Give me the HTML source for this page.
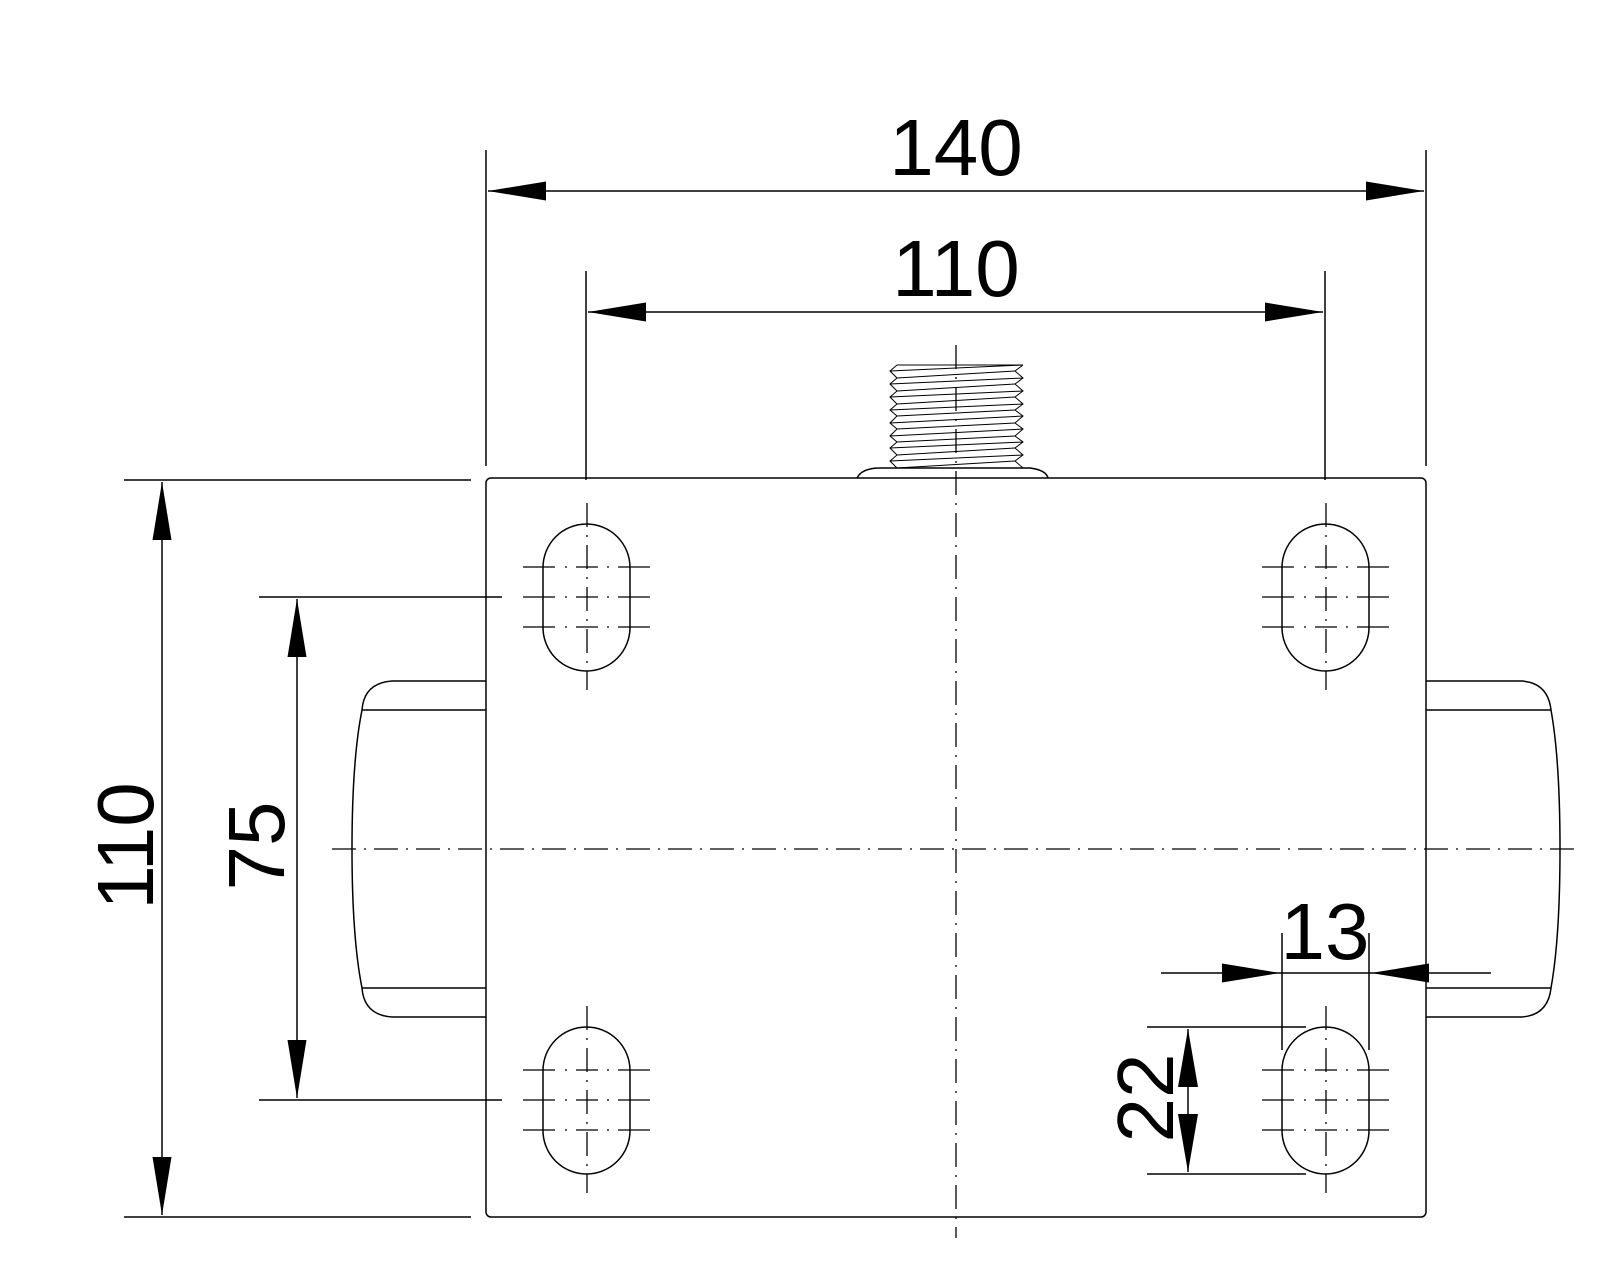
<!DOCTYPE html>
<html><head><meta charset="utf-8"><style>html,body{margin:0;padding:0;background:#fff}svg{display:block}</style></head>
<body>
<svg width="1600" height="1280" viewBox="0 0 1600 1280" xmlns="http://www.w3.org/2000/svg">
<g fill="none" stroke="#000" stroke-width="1.5">
<rect x="486" y="478" width="940" height="739" rx="5"/>
<path d="M486 681 H392 Q364 683 362 710 Q352 760 352 849 Q352 938 362 988 Q364 1015 392 1017 H486"/>
<line x1="362" y1="710" x2="486" y2="710"/><line x1="362" y1="988" x2="486" y2="988"/>
<path d="M1426 681 H1522 Q1548 683 1551 710 Q1560 760 1560 849 Q1560 938 1551 988 Q1548 1015 1522 1017 H1426"/>
<line x1="1426" y1="710" x2="1551" y2="710"/><line x1="1426" y1="988" x2="1551" y2="988"/>
<path d="M857 478 Q862 468 880 468 H1030 Q1046 470 1048 478"/>
<line x1="486" y1="150" x2="486" y2="466"/><line x1="1426" y1="150" x2="1426" y2="466"/>
<line x1="586" y1="271" x2="586" y2="480"/><line x1="1325" y1="271" x2="1325" y2="480"/>
<line x1="488" y1="191" x2="1424" y2="191"/>
<line x1="588" y1="312" x2="1323" y2="312"/>
<line x1="124" y1="480" x2="471" y2="480"/><line x1="124" y1="1217" x2="471" y2="1217"/>
<line x1="162" y1="482" x2="162" y2="1215"/>
<line x1="259" y1="597" x2="502" y2="597"/><line x1="259" y1="1100" x2="502" y2="1100"/>
<line x1="297" y1="599" x2="297" y2="1098"/>
<line x1="1161" y1="973" x2="1491" y2="973"/>
<line x1="1282" y1="933" x2="1282" y2="1050"/><line x1="1369" y1="933" x2="1369" y2="1050"/>
<line x1="1147" y1="1027" x2="1306" y2="1027"/><line x1="1147" y1="1174" x2="1306" y2="1174"/>
<line x1="1188" y1="1029" x2="1188" y2="1172"/>
<rect x="543" y="524" width="87" height="147" rx="43.5"/>
<rect x="1282" y="524" width="87" height="147" rx="43.5"/>
<rect x="543" y="1027" width="87" height="147" rx="43.5"/>
<rect x="1282" y="1027" width="87" height="147" rx="43.5"/>
</g>
<g stroke="#000" stroke-width="1.3" fill="none" stroke-dasharray="24 8 2 8">
<line x1="332" y1="849" x2="1582" y2="849"/>
<line x1="956" y1="345" x2="956" y2="1238"/>
<line x1="587" y1="503" x2="587" y2="690"/>
<line x1="1326" y1="503" x2="1326" y2="690"/>
<line x1="587" y1="1006" x2="587" y2="1193"/>
<line x1="1326" y1="1006" x2="1326" y2="1193"/>
</g>
<g stroke="#000" stroke-width="1.3" fill="none" stroke-dasharray="32 10 2 9 22 9 2 9 40">
<line x1="523" y1="567" x2="650" y2="567"/><line x1="523" y1="597" x2="650" y2="597"/><line x1="523" y1="627" x2="650" y2="627"/>
<line x1="1262" y1="567" x2="1389" y2="567"/><line x1="1262" y1="597" x2="1389" y2="597"/><line x1="1262" y1="627" x2="1389" y2="627"/>
<line x1="523" y1="1070" x2="650" y2="1070"/><line x1="523" y1="1100" x2="650" y2="1100"/><line x1="523" y1="1130" x2="650" y2="1130"/>
<line x1="1262" y1="1070" x2="1389" y2="1070"/><line x1="1262" y1="1100" x2="1389" y2="1100"/><line x1="1262" y1="1130" x2="1389" y2="1130"/>
</g>
<g stroke="#000" stroke-width="1" fill="none">
<polyline points="897,365 890,371 897,378 890,384 897,391 890,397 897,404 890,410 897,416 890,423 897,429 890,436 897,442 890,448 897,455 890,461 897,468"/>
<polyline points="1023,365 1015,371 1023,378 1015,384 1023,391 1015,397 1023,404 1015,410 1023,416 1015,423 1023,429 1015,436 1023,442 1015,448 1023,455 1015,461 1023,468"/>
<line x1="897" y1="365" x2="1023" y2="365"/>
<line x1="890" y1="371" x2="1023" y2="365"/><line x1="890" y1="384" x2="1023" y2="378"/><line x1="890" y1="397" x2="1023" y2="391"/><line x1="890" y1="410" x2="1023" y2="404"/><line x1="890" y1="423" x2="1023" y2="416"/><line x1="890" y1="436" x2="1023" y2="429"/><line x1="890" y1="448" x2="1023" y2="442"/><line x1="890" y1="461" x2="1023" y2="455"/>
<line x1="897" y1="378" x2="1015" y2="371"/><line x1="897" y1="391" x2="1015" y2="384"/><line x1="897" y1="404" x2="1015" y2="397"/><line x1="897" y1="416" x2="1015" y2="410"/><line x1="897" y1="429" x2="1015" y2="423"/><line x1="897" y1="442" x2="1015" y2="436"/><line x1="897" y1="455" x2="1015" y2="448"/><line x1="897" y1="468" x2="1015" y2="461"/>
</g>
<g fill="#000">
<polygon points="488,191 546,181.5 546,200.5"/><polygon points="1424,191 1366,181.5 1366,200.5"/>
<polygon points="588,312 646,302.5 646,321.5"/><polygon points="1323,312 1265,302.5 1265,321.5"/>
<polygon points="162,482 152.5,540 171.5,540"/><polygon points="162,1215 152.5,1157 171.5,1157"/>
<polygon points="297,599 287.5,657 306.5,657"/><polygon points="297,1098 287.5,1040 306.5,1040"/>
<polygon points="1280,973 1222,963.5 1222,982.5"/><polygon points="1371,973 1429,963.5 1429,982.5"/>
<polygon points="1188,1029 1178,1087 1198,1087"/><polygon points="1188,1172 1178,1114 1198,1114"/>
</g>
<g font-family="Liberation Sans, sans-serif" font-size="80" fill="#000" text-anchor="middle">
<text x="956" y="175">140</text>
<text x="956" y="296">110</text>
<text x="1325" y="959">13</text>
<text transform="translate(153,846) rotate(-90)">110</text>
<text transform="translate(284,846) rotate(-90)">75</text>
<text transform="translate(1173,1098) rotate(-90)">22</text>
</g>
</svg>
</body></html>
